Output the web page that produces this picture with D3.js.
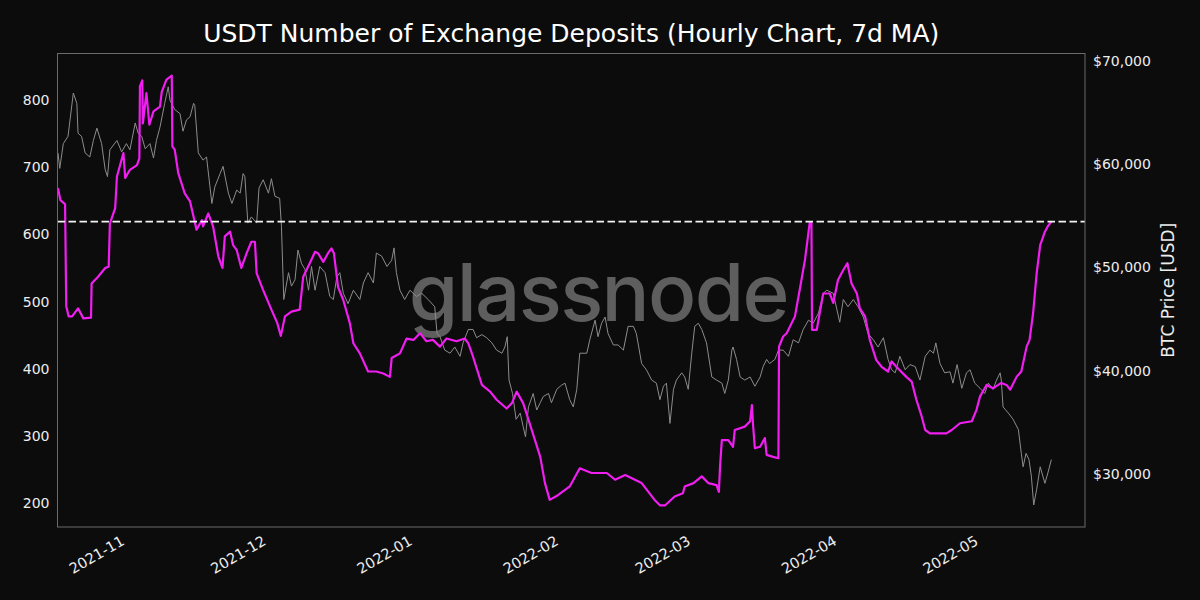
<!DOCTYPE html>
<html>
<head>
<meta charset="utf-8">
<script src="https://cdn.jsdelivr.net/npm/d3@7"></script>
<style>
  html, body { margin: 0; padding: 0; background: #0c0c0c; }
  svg { display: block; }
</style>
</head>
<body>
<div class="canvas"></div>
<script>
// USDT deposits (7d MA)
const depositDates = [
  "2021-10-18T00","2021-10-18T12","2021-10-19T12","2021-10-19T18","2021-10-20T06","2021-10-21T00","2021-10-22T06","2021-10-23T09",
  "2021-10-25T00","2021-10-25T03","2021-10-26T12","2021-10-28T00","2021-10-28T18","2021-10-29T00","2021-10-30T03","2021-10-30T12",
  "2021-10-31T21","2021-11-01T06","2021-11-02T06","2021-11-03T18","2021-11-04T06","2021-11-04T09","2021-11-04T21","2021-11-05T00",
  "2021-11-05T18","2021-11-06T09","2021-11-07T06","2021-11-08T15","2021-11-09T00","2021-11-10T00","2021-11-11T03","2021-11-11T06",
  "2021-11-11T18","2021-11-12T12","2021-11-13T21","2021-11-15T00","2021-11-16T09","2021-11-17T12","2021-11-17T18","2021-11-18T21",
  "2021-11-19T21","2021-11-21T00","2021-11-21T21","2021-11-22T09","2021-11-23T12","2021-11-24T03","2021-11-24T21","2021-11-25T21",
  "2021-11-27T00","2021-11-28T00","2021-11-28T18","2021-11-29T03","2021-11-30T12","2021-12-02T06","2021-12-03T12","2021-12-04T06",
  "2021-12-05T03","2021-12-06T12","2021-12-08T06","2021-12-09T00","2021-12-10T09","2021-12-11T12","2021-12-12T03","2021-12-13T06",
  "2021-12-14T06","2021-12-15T00","2021-12-15T12","2021-12-16T09","2021-12-17T12","2021-12-18T21","2021-12-19T15","2021-12-21T00",
  "2021-12-22T18","2021-12-24T12","2021-12-25T23","2021-12-27T09","2021-12-27T18","2021-12-29T12","2021-12-30T22","2022-01-01T09",
  "2022-01-02T18","2022-01-04T03","2022-01-05T12","2022-01-07T00","2022-01-08T09","2022-01-10T12","2022-01-12T06","2022-01-13T00",
  "2022-01-14T00","2022-01-15T21","2022-01-17T15","2022-01-19T00","2022-01-21T03","2022-01-22T06","2022-01-23T06","2022-01-24T15",
  "2022-01-26T00","2022-01-28T06","2022-01-29T06","2022-01-30T06","2022-02-01T00","2022-02-03T12","2022-02-05T15","2022-02-08T03",
  "2022-02-11T09","2022-02-13T03","2022-02-15T06","2022-02-18T18","2022-02-21T12","2022-02-22T15","2022-02-23T18","2022-02-25T18",
  "2022-02-27T12","2022-02-27T21","2022-03-01T18","2022-03-03T12","2022-03-04T21","2022-03-06T15","2022-03-07T03","2022-03-07T09",
  "2022-03-07T18","2022-03-09T03","2022-03-10T03","2022-03-10T12","2022-03-12T15","2022-03-13T18","2022-03-14T03","2022-03-14T09",
  "2022-03-14T18","2022-03-15T21","2022-03-16T21","2022-03-17T06","2022-03-18T15","2022-03-19T18","2022-03-19T21","2022-03-20T18",
  "2022-03-21T12","2022-03-23T06","2022-03-24T09","2022-03-25T09","2022-03-26T09","2022-03-26T18","2022-03-26T21","2022-03-27T21",
  "2022-03-29T06","2022-03-30T15","2022-03-31T09","2022-04-01T09","2022-04-02T12","2022-04-03T09","2022-04-04T06","2022-04-05T09",
  "2022-04-06T00","2022-04-07T03","2022-04-08T03","2022-04-09T12","2022-04-10T15","2022-04-12T00","2022-04-12T18","2022-04-13T18",
  "2022-04-15T21","2022-04-17T00","2022-04-18T00","2022-04-19T03","2022-04-19T21","2022-04-20T21","2022-04-24T09","2022-04-25T12",
  "2022-04-27T06","2022-04-29T18","2022-04-30T18","2022-05-01T12","2022-05-02T21","2022-05-04T06","2022-05-06T00","2022-05-07T03",
  "2022-05-07T21","2022-05-09T06","2022-05-10T06","2022-05-11T09","2022-05-12T00","2022-05-12T18","2022-05-13T12","2022-05-14T06",
  "2022-05-15T06","2022-05-15T21","2022-05-16T15"
];
const depositValues = [
  669,651,645,493,478,478,490,475,
  476,527,537,550,552,616,639,686,
  721,684,696,703,713,820,829,765,
  810,763,783,790,812,830,836,731,
  726,691,661,649,607,621,612,631,
  612,567,550,597,604,584,577,550,
  572,589,589,542,517,488,468,449,
  478,485,488,537,557,574,572,559,
  572,579,572,522,502,468,438,423,
  396,396,393,388,416,423,445,443,
  453,441,443,433,445,441,445,438,
  418,376,366,354,341,349,366,349,
  319,269,230,205,212,225,252,245,
  245,235,242,230,205,197,197,210,
  215,225,230,240,230,227,217,255,
  294,294,284,309,314,322,346,316,
  282,284,297,272,269,267,433,448,
  453,478,522,562,617,617,458,458,
  512,512,498,532,547,557,527,512,
  490,478,443,413,403,396,411,403,
  388,381,354,329,309,304,304,309,
  319,322,339,359,376,371,379,376,
  369,388,396,433,443,483,542,584,
  604,612,619
];

// BTC price (right axis)
const priceDates = [
  "2021-10-18T00","2021-10-18T09","2021-10-19T03","2021-10-20T03","2021-10-20T12","2021-10-21T06","2021-10-22T00","2021-10-22T06",
  "2021-10-23T00","2021-10-23T18","2021-10-24T18","2021-10-25T12","2021-10-26T06","2021-10-27T06","2021-10-28T00","2021-10-28T12",
  "2021-10-29T00","2021-10-30T12","2021-10-31T12","2021-11-01T12","2021-11-02T06","2021-11-03T09","2021-11-04T00","2021-11-04T18",
  "2021-11-05T12","2021-11-06T12","2021-11-07T06","2021-11-07T21","2021-11-08T15","2021-11-09T15","2021-11-10T09","2021-11-10T18",
  "2021-11-11T18","2021-11-12T21","2021-11-13T12","2021-11-14T06","2021-11-15T00","2021-11-15T18","2021-11-16T00","2021-11-16T18",
  "2021-11-17T18","2021-11-18T12","2021-11-19T15","2021-11-20T06","2021-11-21T09","2021-11-22T00","2021-11-23T03","2021-11-23T21",
  "2021-11-24T21","2021-11-25T15","2021-11-26T06","2021-11-26T15","2021-11-27T06","2021-11-28T00","2021-11-29T03","2021-11-29T15",
  "2021-11-30T12","2021-12-01T15","2021-12-02T06","2021-12-03T00","2021-12-04T00","2021-12-04T09","2021-12-04T21","2021-12-05T21",
  "2021-12-06T12","2021-12-07T06","2021-12-07T21","2021-12-08T15","2021-12-09T09","2021-12-10T03","2021-12-10T18","2021-12-11T12",
  "2021-12-12T12","2021-12-13T15","2021-12-14T15","2021-12-15T09","2021-12-16T03","2021-12-16T18","2021-12-17T12","2021-12-18T12",
  "2021-12-19T15","2021-12-21T00","2021-12-21T18","2021-12-22T18","2021-12-23T21","2021-12-24T12","2021-12-25T15","2021-12-26T18",
  "2021-12-27T18","2021-12-28T06","2021-12-28T18","2021-12-29T12","2021-12-30T12","2021-12-31T15","2022-01-02T00","2022-01-03T03",
  "2022-01-04T12","2022-01-05T21","2022-01-06T09","2022-01-07T00","2022-01-08T00","2022-01-09T03","2022-01-10T03","2022-01-11T06",
  "2022-01-11T21","2022-01-13T00","2022-01-14T00","2022-01-14T18","2022-01-15T21","2022-01-16T21","2022-01-18T00","2022-01-19T00",
  "2022-01-20T03","2022-01-20T18","2022-01-21T06","2022-01-21T15","2022-01-22T09","2022-01-23T03","2022-01-24T00","2022-01-24T15",
  "2022-01-25T03","2022-01-25T18","2022-01-26T18","2022-01-27T12","2022-01-28T06","2022-01-28T21","2022-01-30T00","2022-01-30T15",
  "2022-01-31T18","2022-02-01T18","2022-02-02T12","2022-02-03T12","2022-02-04T06","2022-02-05T00","2022-02-05T15","2022-02-07T03",
  "2022-02-07T18","2022-02-08T21","2022-02-09T12","2022-02-10T06","2022-02-11T00","2022-02-11T15","2022-02-12T18","2022-02-13T18",
  "2022-02-14T21","2022-02-15T21","2022-02-17T00","2022-02-17T15","2022-02-18T18","2022-02-19T18","2022-02-20T21","2022-02-21T21",
  "2022-02-22T15","2022-02-23T09","2022-02-24T00","2022-02-24T18","2022-02-25T12","2022-02-26T03","2022-02-27T06","2022-02-27T21",
  "2022-02-28T15","2022-03-01T09","2022-03-02T00","2022-03-02T18","2022-03-03T12","2022-03-04T12","2022-03-05T15","2022-03-06T15",
  "2022-03-07T18","2022-03-08T09","2022-03-09T03","2022-03-09T21","2022-03-10T03","2022-03-10T21","2022-03-11T15","2022-03-12T15",
  "2022-03-13T18","2022-03-14T18","2022-03-15T21","2022-03-16T12","2022-03-17T06","2022-03-17T21","2022-03-19T00","2022-03-19T18",
  "2022-03-20T18","2022-03-21T21","2022-03-22T21","2022-03-24T00","2022-03-25T00","2022-03-26T03","2022-03-27T03","2022-03-28T06",
  "2022-03-29T06","2022-03-30T00","2022-03-31T09","2022-04-01T18","2022-04-02T12","2022-04-03T12","2022-04-04T15","2022-04-05T15",
  "2022-04-06T18","2022-04-07T18","2022-04-08T21","2022-04-09T21","2022-04-11T00","2022-04-12T00","2022-04-12T18","2022-04-13T12",
  "2022-04-14T12","2022-04-15T15","2022-04-16T15","2022-04-17T18","2022-04-18T18","2022-04-19T21","2022-04-20T21","2022-04-21T15",
  "2022-04-22T03","2022-04-23T00","2022-04-24T00","2022-04-25T03","2022-04-25T18","2022-04-26T15","2022-04-27T15","2022-04-28T15",
  "2022-04-29T09","2022-04-30T09","2022-05-01T12","2022-05-02T12","2022-05-03T06","2022-05-04T06","2022-05-05T00","2022-05-05T18",
  "2022-05-06T00","2022-05-06T09","2022-05-07T12","2022-05-08T12","2022-05-09T15","2022-05-10T06","2022-05-10T15","2022-05-11T06",
  "2022-05-11T21","2022-05-12T09","2022-05-12T21","2022-05-13T12","2022-05-14T06","2022-05-15T06","2022-05-15T21","2022-05-16T15"
];
const priceValues = [
  61100,59600,62000,62700,64100,66900,65900,63000,
  62700,61100,60700,62300,63500,62000,59500,58800,
  61400,62300,61200,62000,61400,64000,63000,62700,
  61500,62000,60600,62300,63600,65900,67500,66200,
  65300,64900,63200,64300,64600,65900,65700,61100,
  60400,60700,56200,57800,59100,59800,57200,56200,
  57500,57200,59100,58800,54300,54900,54300,57700,
  58500,57200,58600,56900,56700,54000,46900,49500,
  48200,48800,51700,50400,49800,47800,50100,47800,
  50100,49500,47200,46900,49100,49500,47500,46500,
  47800,46900,48500,49500,48500,51400,51100,50100,
  50700,51900,49500,47800,46900,47800,47200,47500,
  46900,46200,43600,43300,42000,41700,42300,41400,
  42700,44000,44000,43200,43500,43200,42700,42000,
  41700,42300,43300,39100,37800,35300,35900,34600,
  33600,36500,37800,36200,36900,37500,37800,36900,
  38200,38600,38800,37200,36500,38200,41700,41700,
  43000,44900,43300,44600,45200,43600,42500,42500,
  42000,44300,44300,43600,40700,40100,39100,38800,
  37200,38500,38800,34900,38200,39100,39800,39400,
  38200,41700,44300,44600,44000,42700,39400,39100,
  38800,37800,39100,42000,42300,41100,39400,39100,
  39400,38500,39400,40400,41100,40700,41100,42000,
  42000,41400,43000,42700,44000,44900,44600,45600,
  47500,47800,47500,44700,46900,46200,46900,46200,
  45200,43600,43000,42300,43200,41100,40100,39800,
  41400,40100,40600,40400,39100,41400,42000,41700,
  42700,40700,39800,39900,38800,40600,38300,39800,
  40100,38800,38300,37800,38800,38200,39100,39800,
  39100,36500,35900,35300,34300,32000,30700,32000,
  31400,29800,27000,28500,30700,29100,30100,31400
];

const thresholdValue = 619;
const leftTicks = [200, 300, 400, 500, 600, 700, 800];
const rightTicks = [30000, 40000, 50000, 60000, 70000];
const xDomain = ["2021-10-17T21:30", "2022-05-23T18:00"];

const width = 1200, height = 600;
const margin = {top: 53.5, right: 115, bottom: 73, left: 57.5};
const graphWidth = width - margin.left - margin.right;
const graphHeight = height - margin.top - margin.bottom;

const parseHour = d3.timeParse('%Y-%m-%dT%H');
const parseMin = d3.timeParse('%Y-%m-%dT%H:%M');

const deposits = depositDates.map((d, i) => ({date: parseHour(d), value: depositValues[i]}));
const prices = priceDates.map((d, i) => ({date: parseHour(d), value: priceValues[i]}));

const svg = d3.select('.canvas')
    .append('svg')
    .attr('width', width)
    .attr('height', height)
    .style('font-family', '"DejaVu Sans", sans-serif');

svg.append('rect')
    .attr('width', width)
    .attr('height', height)
    .attr('fill', '#0c0c0c');

const graph = svg.append('g')
    .attr('transform', `translate(${margin.left}, ${margin.top})`);

const x = d3.scaleTime().domain(xDomain.map(parseMin)).range([0, graphWidth]);
const yLeft = d3.scaleLinear().domain([164.7, 869]).range([graphHeight, 0]);
const yRight = d3.scaleLinear().domain([24869, 70726]).range([graphHeight, 0]);

// watermark
graph.append('text')
    .attr('x', graphWidth / 2 + 27)
    .attr('y', 267)
    .attr('text-anchor', 'middle')
    .attr('font-family', 'Inter, "Open Sans", sans-serif')
    .attr('font-weight', 500)
    .attr('font-size', 80)
    .attr('letter-spacing', -1.7)
    .attr('fill', '#5e5e5e')
    .text('glassnode');

const priceLine = d3.line()
    .x(d => x(d.date))
    .y(d => yRight(d.value));

const depositLine = d3.line()
    .x(d => x(d.date))
    .y(d => yLeft(d.value));

graph.append('path')
    .datum(prices)
    .attr('fill', 'none')
    .attr('stroke', '#8c8c8c')
    .attr('stroke-width', 1)
    .attr('stroke-linejoin', 'round')
    .attr('d', priceLine);

graph.append('path')
    .datum(deposits)
    .attr('fill', 'none')
    .attr('stroke', '#f01ef0')
    .attr('stroke-width', 2.2)
    .attr('stroke-linejoin', 'round')
    .attr('d', depositLine);

graph.append('line')
    .attr('x1', 0)
    .attr('x2', graphWidth)
    .attr('y1', yLeft(thresholdValue))
    .attr('y2', yLeft(thresholdValue))
    .attr('stroke', '#f2f2f2')
    .attr('stroke-width', 1.8)
    .attr('stroke-dasharray', '7.5,3.5');

// frame
graph.append('rect')
    .attr('width', graphWidth)
    .attr('height', graphHeight)
    .attr('fill', 'none')
    .attr('stroke', '#6a6a6a')
    .attr('stroke-width', 1);

// axes
const yAxisLeft = d3.axisLeft(yLeft).tickValues(leftTicks).tickSize(0).tickPadding(8);
const yAxisRight = d3.axisRight(yRight).tickValues(rightTicks).tickSize(0).tickPadding(8)
    .tickFormat(d => '$' + d3.format(',')(d));
const xAxis = d3.axisBottom(x).ticks(d3.timeMonth.every(1)).tickSize(0)
    .tickFormat(d3.timeFormat('%Y-%m'));

const leftGroup = graph.append('g').call(yAxisLeft);
const rightGroup = graph.append('g').attr('transform', `translate(${graphWidth}, 0)`).call(yAxisRight);
const xGroup = graph.append('g').attr('transform', `translate(0, ${graphHeight})`).call(xAxis);

[leftGroup, rightGroup, xGroup].forEach(g => {
    g.select('.domain').remove();
    g.selectAll('text')
        .attr('fill', '#ededed')
        .attr('font-size', 14)
        .attr('font-family', '"DejaVu Sans", sans-serif');
});

xGroup.selectAll('text')
    .attr('font-size', 14.5)
    .attr('y', 0)
    .attr('x', 0)
    .attr('dy', null)
    .attr('text-anchor', 'end')
    .attr('transform', 'translate(1, 17) rotate(-30)');

// title and axis label
svg.append('text')
    .attr('x', margin.left + graphWidth / 2)
    .attr('y', 42)
    .attr('text-anchor', 'middle')
    .attr('fill', '#ffffff')
    .attr('font-size', 25)
    .text('USDT Number of Exchange Deposits (Hourly Chart, 7d MA)');

svg.append('text')
    .attr('transform', `translate(1174, ${margin.top + graphHeight / 2}) rotate(-90)`)
    .attr('text-anchor', 'middle')
    .attr('fill', '#ededed')
    .attr('font-size', 17)
    .text('BTC Price [USD]');
</script>
</body>
</html>
